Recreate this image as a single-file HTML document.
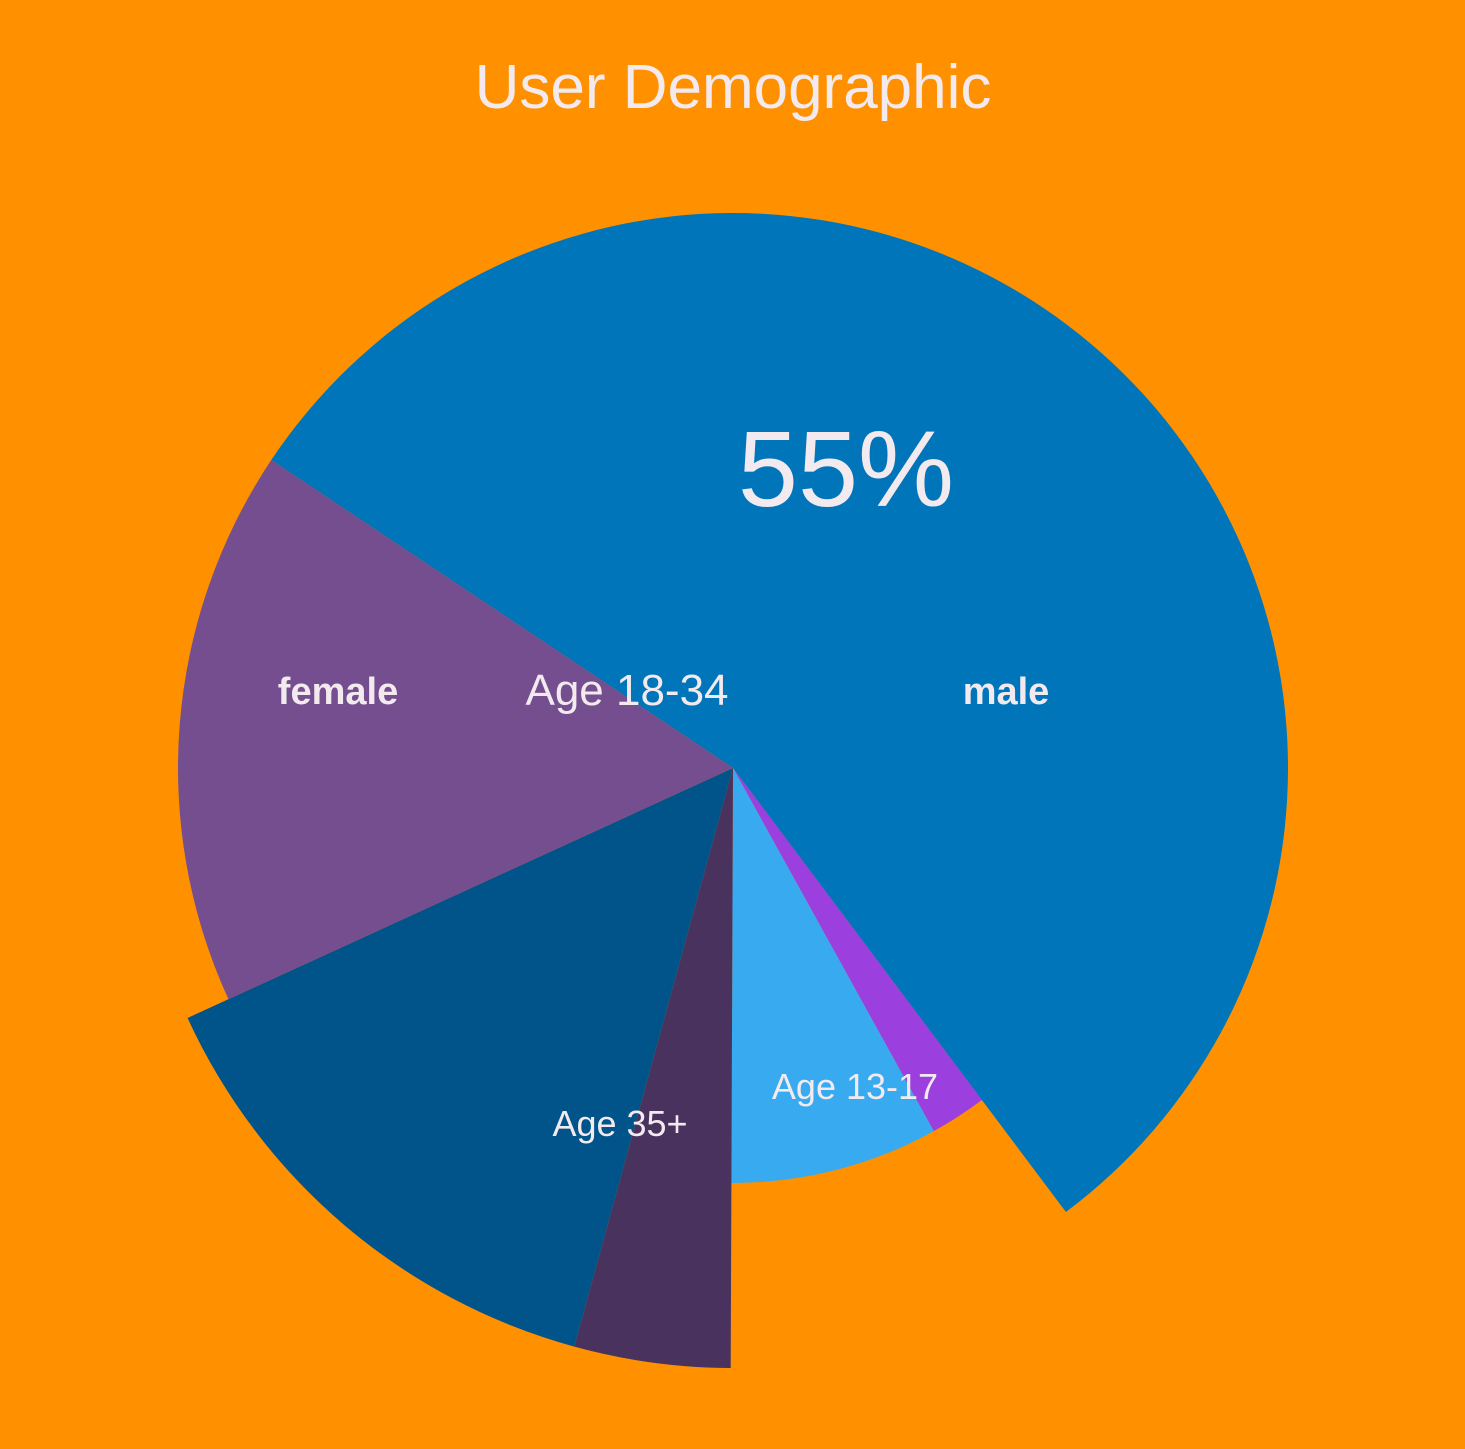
<!DOCTYPE html>
<html><head><meta charset="utf-8"><style>
html,body{margin:0;padding:0;background:#FF9100;}
svg{display:block;}
text{font-family:"Liberation Sans",sans-serif;fill:#F3EAEF;}
</style></head><body>
<svg id="chart" width="1465" height="1449" viewBox="0 0 1465 1449">
<rect width="1465" height="1449" fill="#FF9100"/>
<text x="733" y="108" text-anchor="middle" font-size="62">User Demographic</text>
<g id="slices"></g>
<text x="846" y="506" text-anchor="middle" font-size="108">55%</text>
<text x="627" y="705" text-anchor="middle" font-size="44">Age 18-34</text>
<text x="338" y="704" text-anchor="middle" font-size="38" font-weight="bold">female</text>
<text x="1006" y="704" text-anchor="middle" font-size="38" font-weight="bold">male</text>
<text x="855" y="1099" text-anchor="middle" font-size="36">Age 13-17</text>
<text x="620" y="1136" text-anchor="middle" font-size="36">Age 35+</text>
</svg>
<script>
const categories = ["male", "male-other", "age-13-17", "age-35-plus-small", "age-35-plus", "female"];
const values = [55.4, 2.2, 8.1, 4.2, 13.9, 16.2];
const radii = [555, 415, 415, 600, 600, 555];
const colors = ["#0075BA", "#9B3FDF", "#38AAF0", "#4A325E", "#00548A", "#744E8E"];
const startAngle = -56.3;
const cx = 733, cy = 768;
const total = values.reduce((a, b) => a + b, 0);
function angleScale(v) { return v / total * 360; }
function pt(r, a) { const t = a * Math.PI / 180; return [cx + r * Math.sin(t), cy - r * Math.cos(t)]; }
const g = document.getElementById('slices');
let a0 = startAngle;
values.forEach((v, i) => {
  const a1 = a0 + angleScale(v);
  const r = radii[i];
  const p0 = pt(r, a0), p1 = pt(r, a1);
  const large = (a1 - a0) > 180 ? 1 : 0;
  const path = document.createElementNS('http://www.w3.org/2000/svg', 'path');
  path.setAttribute('d', `M${cx},${cy} L${p0[0]},${p0[1]} A${r},${r} 0 ${large} 1 ${p1[0]},${p1[1]} Z`);
  path.setAttribute('fill', colors[i]);
  
  
  g.appendChild(path);
  a0 = a1;
});
</script>
</body></html>
